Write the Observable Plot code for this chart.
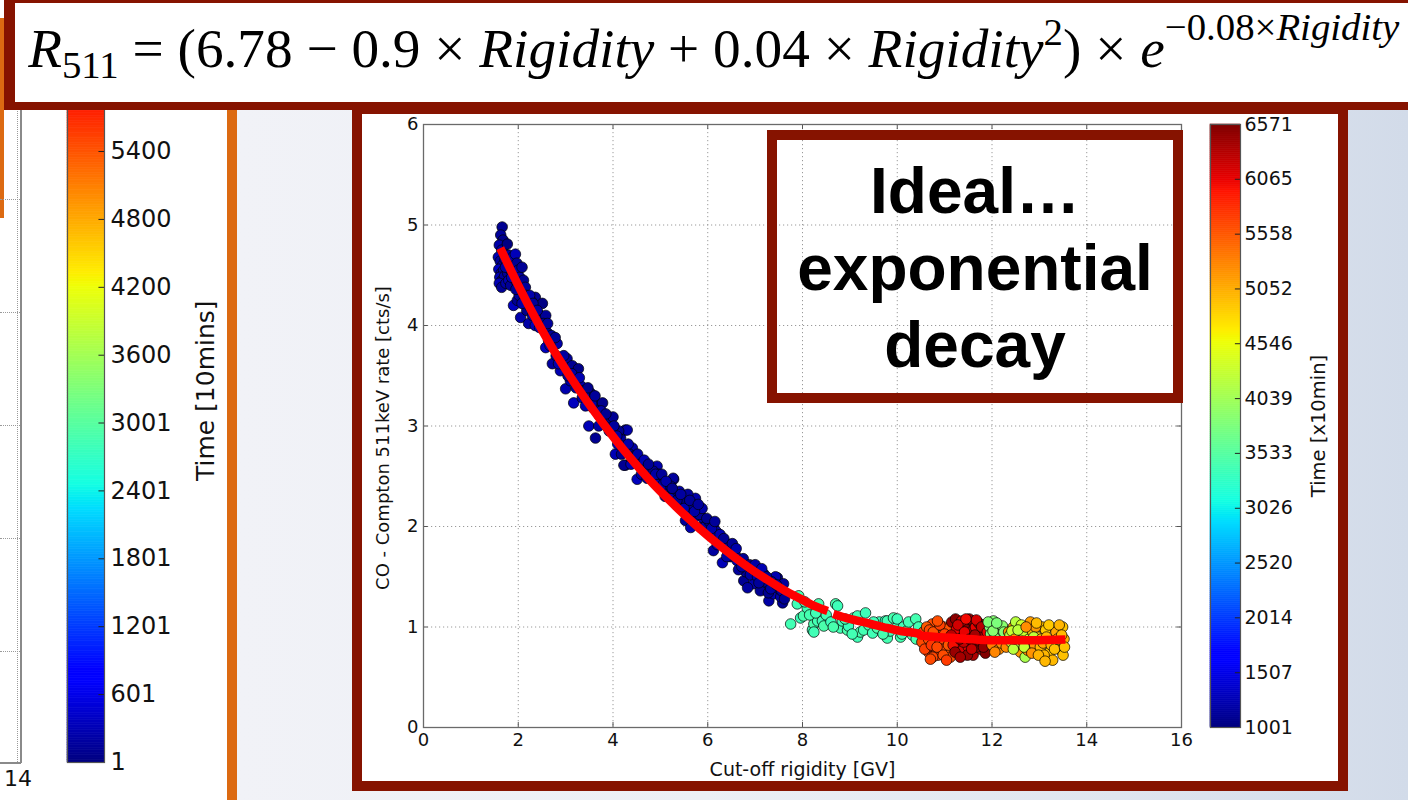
<!DOCTYPE html>
<html>
<head>
<meta charset="utf-8">
<script src="https://cdn.jsdelivr.net/npm/d3@7"></script>
<script src="https://cdn.jsdelivr.net/npm/@observablehq/plot@0.6"></script>
<style>
  html, body { margin: 0; padding: 0; }
  body { width: 1408px; height: 800px; overflow: hidden; position: relative; background: #ffffff; font-family: "DejaVu Sans", sans-serif; }
  .abs { position: absolute; }
  #slidebg { left: 237px; top: 0; width: 1171px; height: 800px; background: linear-gradient(90deg, #f1f2f7 0%, #eceff5 40%, #dfe5ef 75%, #d2dbe9 100%); }
  #orangeLine { left: 227px; top: 0; width: 10px; height: 800px; background: #dc6a12; }
  #orangeEdge { left: 0; top: 18px; width: 4px; height: 200px; background: #dc6a12; }
  #leftDotV { left: 17px; top: 108px; width: 0; height: 654px; border-left: 1px dotted #9a9a9a; }
  #leftSpine { left: 20px; top: 108px; width: 1.5px; height: 655px; background: #8a8a8a; }
  #leftBottom { left: 0; top: 762px; width: 21px; height: 1.5px; background: #8a8a8a; }
  .leftGrid { left: 0; width: 20px; height: 0; border-top: 1px dotted #9a9a9a; }
  #left14 { left: 4px; top: 766px; font-size: 22px; color: #111; }
  #mainFrame { left: 352px; top: 104px; width: 996px; height: 687px; border: 10px solid #861300; box-sizing: border-box; background: #ffffff; }
  #annot { left: 767px; top: 130px; width: 416px; height: 273px; border: 10px solid #861300; box-sizing: border-box; }
  #formulaBox { left: 4px; top: -8px; width: 1420px; height: 118px; border: 11px solid #861300; border-bottom-width: 8px; box-sizing: border-box; background: #ffffff; z-index: 10; }
  #formulaSvg { left: 0; top: 0; z-index: 11; }
</style>
</head>
<body>
<div id="slidebg" class="abs"></div>
<div id="orangeLine" class="abs"></div>
<div id="orangeEdge" class="abs"></div>
<div id="leftDotV" class="abs"></div>
<div id="leftSpine" class="abs"></div>
<div id="leftBottom" class="abs"></div>
<div class="abs leftGrid" style="top:199px"></div>
<div class="abs leftGrid" style="top:312px"></div>
<div class="abs leftGrid" style="top:425px"></div>
<div class="abs leftGrid" style="top:538px"></div>
<div class="abs leftGrid" style="top:651px"></div>
<div id="left14" class="abs">14</div>
<div id="leftCb" class="abs" style="left:67px;top:0px"></div>
<div id="mainFrame" class="abs"></div>
<div id="mainPlot" class="abs" style="left:362px;top:114px"></div>
<div id="colorbar" class="abs" style="left:1205px;top:114px"></div>
<div id="annot" class="abs">
  <svg width="396" height="253" style="position:absolute;left:0;top:0;overflow:visible">
    <g font-family="'Liberation Sans', Arial, sans-serif" font-weight="bold" font-size="64" text-anchor="middle" fill="#000">
      <text x="198" y="73">Ideal…</text>
      <text x="198" y="150">exponential</text>
      <text x="198" y="227">decay</text>
    </g>
  </svg>
</div>
<div id="formulaBox" class="abs"></div>
<svg id="formulaSvg" class="abs" width="1408" height="104">
  <g id="formulaG">
    <text id="formulaText" x="27" y="67" font-family="'Liberation Serif', 'DejaVu Serif', serif" font-size="47" fill="#000"><tspan font-style="italic">R</tspan><tspan font-size="33" dy="9">511</tspan><tspan dy="-9"> = (6.78 − 0.9 × </tspan><tspan font-style="italic">Rigidity</tspan><tspan> + 0.04 × </tspan><tspan font-style="italic">Rigidity</tspan><tspan font-size="33" dy="-19">2</tspan><tspan dy="19">) × </tspan><tspan font-style="italic">e</tspan><tspan font-size="33" dy="-23">−0.08×</tspan><tspan font-size="33" font-style="italic">Rigidity</tspan></text>
  </g>
</svg>

<script>
// ---------------- DATA ----------------
// Axis ticks
const xTicks = [0, 2, 4, 6, 8, 10, 12, 14, 16];
const yTicks = [0, 1, 2, 3, 4, 5, 6];
// Colour bar (Time [x10min]) range and ticks
const timeMin = 1001;
const timeMax = 6571;
const cbTicks = [1001, 1507, 2014, 2520, 3026, 3533, 4039, 4546, 5052, 5558, 6065, 6571];
// Partial colour bar of the previous chart (Time [10mins])
const leftCbMin = 1;
const leftCbMax = 6571;
const leftCbTicks = [1, 601, 1201, 1801, 2401, 3001, 3600, 4200, 4800, 5400];

// Scatter points: [cut-off rigidity (GV), rate (cts/s), time (x10 min)]
const blueBand = [
  [1.66,4.98,1090],[1.63,4.90,1130],[1.68,4.85,1060],[1.60,4.80,1210],[1.65,4.75,1150],[1.70,4.72,1080],[1.58,4.68,1240],[1.62,4.64,1120],[1.67,4.60,1190],[1.72,4.66,1070],
  [1.59,4.56,1300],[1.64,4.52,1110],[1.69,4.55,1170],[1.61,4.48,1230],[1.66,4.45,1050],[1.71,4.49,1140],[1.60,4.42,1260],[1.65,4.38,1100],[1.74,4.42,1180],[1.77,4.81,1020],
  [1.80,4.70,1160],[1.76,4.60,1090],[1.82,4.62,1220],[1.78,4.52,1130],[1.84,4.55,1070],[1.80,4.45,1250],[1.84,4.40,1110],[1.88,4.68,1190],[1.90,4.58,1040],[1.94,4.71,1280],
  [1.92,4.50,1150],[1.97,4.62,1100],[2.00,4.55,1210],[1.96,4.44,1060],[2.03,4.48,1170],[2.08,4.58,1120],[2.06,4.40,1240],[2.11,4.45,1080],[2.10,4.35,1190],[2.15,4.38,1140],
  [1.90,4.20,1310],[1.98,4.25,1090],[2.05,4.08,1200],[2.02,4.30,1130],[2.13,4.28,1260],
  [2.19,4.25,1110],[2.22,4.02,1180],[2.18,4.15,1050],[2.26,4.18,1230],[2.30,4.10,1140],[2.36,4.28,1090],[2.36,4.00,1270],[2.42,4.12,1160],[2.51,4.22,1020],[2.47,4.05,1200],
  [2.58,4.10,1120],[2.55,3.95,1250],[2.61,3.93,1080],[2.64,3.85,1170],[2.70,3.90,1130],[2.58,3.78,1290],[2.75,3.80,1060],[2.82,3.82,1210],[2.72,3.62,1150],[2.80,3.70,1100],
  [2.89,3.55,1240],[2.93,3.64,1070],[2.28,4.24,1150],[2.33,4.16,1200],[2.88,3.68,1110],[2.97,3.60,1180],
  [3.03,3.67,1130],[3.08,3.58,1260],[3.14,3.60,1090],[3.20,3.52,1170],[3.27,3.57,1040],[3.00,3.37,1220],[3.10,3.45,1150],[3.17,3.23,1300],[3.24,3.45,1110],[3.32,3.40,1190],
  [3.38,3.35,1070],[3.45,3.30,1230],[3.52,3.33,1140],[3.59,3.28,1100],[3.65,3.22,1250],[3.78,3.23,1060],[3.67,3.15,1180],[3.72,3.10,1120],[3.49,3.00,1270],[3.63,2.88,1090],
  [3.80,3.05,1210],[3.88,2.99,1150],[3.95,3.08,1080],[3.58,3.18,1190],[3.35,3.28,1130],[3.42,3.20,1240],[3.70,3.00,1170],
  [4.00,3.09,1100],[4.05,2.72,1260],[4.16,2.88,1140],[4.26,2.96,1080],[4.30,2.96,1200],[4.26,2.61,1130],[4.41,2.78,1180],[4.64,2.61,1060],[4.93,2.60,1220],[4.79,2.51,1110],
  [4.51,2.47,1290],[5.00,2.46,1150],[4.23,2.61,1090],[4.10,2.82,1230],[4.20,2.80,1170],[4.35,2.72,1040],[4.47,2.66,1210],[4.55,2.62,1120],[4.70,2.56,1190],[4.85,2.55,1080],
  [4.38,2.62,1250],[4.60,2.52,1140],[4.72,2.48,1100],[4.88,2.47,1200],[4.97,2.52,1160],[4.12,2.95,1070],[4.45,2.70,1240],
  [5.15,2.36,1130],[5.28,2.47,1190],[5.49,2.29,1060],[5.74,2.28,1210],[5.38,2.21,1150],[5.64,2.19,1100],[5.78,2.16,1270],[5.53,2.06,1120],[5.91,2.08,1180],[5.85,1.99,1090],
  [5.64,1.99,1230],[5.27,2.48,1140],[5.06,2.42,1200],[5.10,2.30,1080],[5.22,2.40,1160],[5.30,2.33,1110],[5.40,2.35,1250],[5.45,2.20,1170],[5.55,2.25,1050],[5.60,2.12,1190],
  [5.68,2.22,1130],[5.70,2.08,1220],[5.82,2.12,1100],[5.95,2.00,1160],[5.20,2.28,1240],[5.35,2.26,1070],[5.88,2.18,1200],[5.58,2.32,1140],
  [6.12,2.01,1110],[6.06,1.93,1190],[6.23,1.89,1060],[6.37,1.81,1230],[6.12,1.76,1150],[6.54,1.78,1100],[6.31,1.64,1270],[6.69,1.64,1130],[6.84,1.59,1180],[6.76,1.46,1090],
  [6.97,1.43,1210],[6.84,1.39,1150],[6.03,2.05,1070],[6.18,1.95,1240],[6.28,1.86,1120],[6.42,1.76,1190],[6.48,1.70,1040],[6.58,1.72,1160],[6.62,1.66,1220],[6.80,1.55,1110],
  [6.90,1.52,1170],[6.94,1.58,1080],[6.20,1.82,1250],[6.65,1.57,1130],[6.45,1.82,1200],[6.75,1.68,1090],
  [7.16,1.53,1140],[7.26,1.41,1210],[7.47,1.49,1060],[7.29,1.26,1180],[7.58,1.24,1120],[7.39,1.33,1250],[7.11,1.36,1100],[7.18,1.53,1170],[7.43,1.50,1230],[7.28,1.34,1080],
  [7.54,1.30,1190],[7.60,1.43,1140],[7.05,1.50,1200],[7.35,1.45,1110],[7.50,1.38,1160],[7.65,1.33,1220],[7.20,1.45,1070],[7.02,1.58,1150],
  [1.73,4.58,1160],[1.86,4.48,1230],[1.95,4.36,1100],[2.08,4.22,1180],[2.16,4.30,1060],[2.24,4.30,1210],[2.31,4.22,1130],[2.40,4.15,1170],[2.45,3.98,1250],[2.53,4.02,1090],
  [2.62,4.02,1140],[2.67,3.80,1200],[2.78,3.88,1110],[2.85,3.62,1230],[2.96,3.70,1150],[3.05,3.50,1080],[3.13,3.52,1190],[3.22,3.38,1120],[3.29,3.48,1240],[3.40,3.30,1170],
  [3.47,3.38,1060],[3.55,3.22,1200],[3.62,3.30,1130],[3.75,3.15,1180],[3.85,3.12,1090],[3.92,2.95,1220],[4.02,3.00,1140],[4.08,2.90,1190],[4.18,2.72,1070],[4.32,2.82,1210],
  [4.40,2.68,1120],[4.52,2.72,1170],[4.66,2.66,1240],[4.75,2.62,1100],[4.90,2.52,1180],[5.03,2.52,1130],[5.12,2.45,1210],[5.25,2.38,1090],[5.43,2.32,1160],[5.50,2.18,1230],
  [5.62,2.26,1110],[5.72,2.15,1190],[5.80,2.22,1140],[5.98,2.08,1070],[6.08,1.98,1200],[6.15,2.05,1130],[6.26,1.92,1250],[6.34,1.88,1090],[6.40,1.70,1170],[6.52,1.83,1120],
  [6.60,1.78,1210],[6.72,1.60,1150],[6.88,1.62,1080],[7.00,1.62,1190],[7.08,1.44,1130],[7.14,1.58,1240],[7.24,1.50,1100],[7.33,1.38,1170],[7.45,1.42,1210],[7.56,1.36,1140],
  [7.62,1.28,1090]
];
const cyanBand = [
  [7.75,1.03,3400],[7.89,1.23,3380],[7.92,1.31,3420],[7.96,1.09,3360],[8.02,1.11,3440],[8.10,1.19,3400],[8.21,0.97,3370],[8.24,1.03,3450],[8.24,0.95,3390],[8.32,1.06,3410],
  [8.34,1.23,3430],[8.42,1.06,3380],[8.45,1.01,3460],[8.05,1.25,3350],[8.15,1.12,3420],[8.50,1.12,3400],[8.70,1.23,3440],[8.74,1.21,3370],[8.80,0.99,3410],[8.84,1.06,3390],
  [8.95,0.97,3450],[8.97,1.01,3360],[9.08,1.09,3420],[9.16,1.11,3400],[9.16,0.90,3380],[9.22,0.95,3440],[9.29,0.97,3410],[9.33,1.14,3370],[9.40,1.02,3430],[9.48,0.94,3390],
  [9.58,0.99,3460],[9.62,1.05,3400],[9.75,1.06,3350],[9.79,0.89,3420],[9.79,1.06,3410],[9.85,0.96,3380],[9.92,1.09,3440],[10.00,1.00,3400],[10.00,1.08,3370],[10.07,0.90,3430],
  [10.13,1.00,3390],[10.20,0.96,3450],[10.24,1.05,3410],[10.32,0.92,3380],[10.39,1.08,3420],[10.45,1.00,3400],[10.40,0.88,3440],[8.60,1.05,3360],[8.90,1.08,3420],[9.05,0.93,3400],
  [9.50,1.05,3380],[9.70,0.93,3430],[10.10,0.93,3410],[8.28,1.14,3390],[8.65,1.00,3440]
];
const orangeCluster = [
  [10.55,0.95,5600],[10.60,0.83,5650],[10.66,0.75,5700],[10.70,0.90,5560],[10.74,1.03,5620],[10.78,0.80,5680],[10.82,0.95,5590],[10.86,0.72,5720],[10.91,0.92,5640],[10.95,0.84,5700],
  [10.98,1.00,5610],[11.02,0.88,5660],[11.06,0.75,5580],[11.10,0.95,5730],[10.62,1.00,5550],[10.88,0.85,5690],[11.12,0.70,5620],[10.57,0.88,5710],[10.68,0.97,5640],[10.80,0.88,5590],
  [10.93,0.78,5670],[11.05,0.98,5600],[10.64,0.80,5740],[10.75,0.70,5660],
  [10.52,0.85,5640],[10.58,0.78,5700],[10.66,0.88,5600],[10.72,0.82,5750],[10.76,0.95,5580],[10.84,0.80,5650],[10.90,1.02,5700],[10.97,0.72,5620],[11.00,0.93,5680],[11.08,0.82,5570],
  [10.70,0.68,5640],[10.85,1.06,5610],[11.04,0.67,5720]
];
const redCluster = [
  [11.15,1.05,6450],[11.20,0.90,6100],[11.23,1.08,6520],[11.27,0.87,6400],[11.30,0.78,6050],[11.34,0.97,6480],[11.38,0.77,6150],[11.44,1.03,6550],[11.46,0.90,6380],[11.50,0.80,6120],
  [11.55,0.95,6460],[11.58,1.06,6530],[11.62,0.84,6420],[11.65,1.00,6080],[11.70,0.90,6500],[11.75,0.78,6200],[11.80,0.92,6440],[11.84,1.02,6010],[11.86,0.74,6560],[11.88,0.85,6380],
  [11.40,0.85,6250],[11.60,0.72,6350],[11.25,0.98,6060],[11.18,0.82,6000],[11.52,1.08,6490],[11.72,1.04,6410],[11.36,1.06,6140],[11.68,0.80,6560],
  [11.14,0.92,6300],[11.22,0.75,6450],[11.28,1.02,6180],[11.32,0.88,6520],[11.42,0.95,6070],[11.48,0.72,6470],[11.53,0.88,6560],[11.57,0.78,6230],[11.64,0.92,6400],[11.67,1.07,6150],
  [11.74,0.86,6540],[11.78,1.00,6300],[11.82,0.80,6480],[11.90,0.95,6060],[11.45,1.08,6020],[11.33,0.70,6390]
];
const greenCluster = [
  [11.95,1.00,3800],[11.97,0.93,3750],[12.03,1.06,3850],[12.08,0.97,3900],[12.12,0.84,3780],[12.18,0.92,3820],[12.22,1.01,3880],[12.28,0.88,3760],[12.00,0.82,5300],[12.15,0.78,5250],
  [12.05,0.90,3830],[11.92,1.05,3820],[12.02,0.96,3870],[12.10,1.04,3790],[12.25,0.95,3850],[12.06,0.75,5280],[12.20,0.84,5200],[12.30,0.80,5260]
];
const yellowCluster = [
  [12.35,0.95,5200],[12.40,0.85,4250],[12.45,1.00,5150],[12.50,1.05,4200],[12.52,0.90,5250],[12.56,0.83,4150],[12.60,0.75,5180],[12.66,0.95,4300],[12.70,0.70,4100],[12.75,0.77,5220],
  [12.78,0.88,4250],[12.81,1.05,5150],[12.86,0.95,4950],[12.90,0.82,5200],[12.96,0.90,4900],[13.02,0.80,5000],[13.06,1.00,4950],[13.13,0.97,4880],[13.18,0.85,5050],[13.22,0.75,4920],
  [13.28,0.67,4980],[13.30,0.87,4900],[13.35,0.95,5100],[13.40,0.80,4940],[13.45,0.77,4960],[13.49,1.00,4900],[13.52,0.88,5000],[13.50,0.72,4930],[12.45,0.78,4200],[12.62,1.02,4350],
  [12.38,0.92,4180],[13.10,0.72,4990],[12.92,1.00,5180],
  [12.42,0.96,4300],[12.48,0.88,5220],[12.55,0.97,4220],[12.64,0.86,5180],[12.68,0.80,4280],[12.72,1.00,5240],[12.84,0.74,5200],[12.88,0.90,4250],[12.94,1.04,4960],[12.98,0.72,5010],
  [13.04,0.88,4930],[13.08,0.84,5120],[13.15,0.90,4970],[13.20,1.02,4890],[13.25,0.82,5010],[13.32,0.78,4950],[13.38,0.88,4920],[13.42,1.02,5000],[13.47,0.92,4970],[13.53,0.80,4940],
  [13.12,0.66,4990]
];

// Fitted curve (null = gap in the drawn line)
const fitRigidity = [1.62, 2.00, 2.40, 2.74, 3.10, 3.46, 3.80, 4.16, 4.50, 4.80, 5.15, 5.50, 5.85, 6.20, 6.55, 6.90, 7.26, 7.60, 7.96, 8.25, 8.53, 8.59, 8.65, 9.00, 9.36, 9.70, 10.07, 10.45, 10.49, 11.20, 11.97, 12.80, 13.55];
const fitRate     = [4.77, 4.40, 4.04, 3.76, 3.49, 3.24, 3.02, 2.80, 2.61, 2.45, 2.28, 2.12, 1.97, 1.83, 1.70, 1.58, 1.47, 1.37, 1.28, 1.21, 1.16, null, 1.13, 1.08, 1.04, 1.00, 0.96, 0.935, 0.915, 0.89, 0.868, 0.868, 0.875];

// Text
const xLabel = "Cut-off rigidity [GV]";
const yLabel = "CO - Compton 511keV rate [cts/s]";
const cbLabel = "Time [x10min]";
const leftCbLabel = "Time [10mins]";

// ---------------- STYLE (jet colormap) ----------------
const jetR = [[0,0],[0.35,0],[0.66,1],[0.89,1],[1,0.5]];
const jetG = [[0,0],[0.125,0],[0.375,1],[0.64,1],[0.91,0],[1,0]];
const jetB = [[0,0.5],[0.11,1],[0.34,1],[0.65,0],[1,0]];
function piece(pts, t) {
  for (let i = 1; i < pts.length; i++) {
    if (t <= pts[i][0]) {
      const [t0, v0] = pts[i - 1], [t1, v1] = pts[i];
      return v0 + (v1 - v0) * (t - t0) / (t1 - t0);
    }
  }
  return pts[pts.length - 1][1];
}
function jet(t) {
  t = Math.max(0, Math.min(1, t));
  return d3.rgb(255 * piece(jetR, t), 255 * piece(jetG, t), 255 * piece(jetB, t)).formatHex();
}

// ---------------- BUILD ----------------
const toObj = ([rigidity, rate, time]) => ({rigidity, rate, time});
const points = [...blueBand, ...cyanBand, ...orangeCluster, ...redCluster, ...greenCluster, ...yellowCluster].map(toObj);
const fit = fitRigidity.map((r, i) => ({rigidity: r, rate: fitRate[i]}));

const font = "'DejaVu Sans', sans-serif";

const mainPlot = Plot.plot({
  width: 976, height: 666,
  marginLeft: 61, marginRight: 157, marginTop: 10, marginBottom: 53,
  style: {fontFamily: font, fontSize: "18px", color: "#111", background: "transparent", overflow: "visible"},
  x: {domain: [0, 16], ticks: xTicks, tickSize: 0, tickPadding: 6, label: null, tickFormat: d => String(d)},
  y: {domain: [0, 6], ticks: yTicks, tickSize: 0, tickPadding: 5, label: null, tickFormat: d => String(d)},
  color: {type: "linear", domain: [timeMin, timeMax], interpolate: jet},
  marks: [
    Plot.ruleX(xTicks.slice(1, -1), {stroke: "#9a9a9a", strokeWidth: 1, strokeDasharray: "1.2,2.8"}),
    Plot.ruleY(yTicks.slice(1, -1), {stroke: "#9a9a9a", strokeWidth: 1, strokeDasharray: "1.2,2.8"}),
    Plot.ruleX(xTicks, {y1: 0, y2: 0.05, stroke: "#555"}),
    Plot.ruleX(xTicks, {y1: 5.95, y2: 6, stroke: "#555"}),
    Plot.ruleY(yTicks, {x1: 0, x2: 0.1, stroke: "#555"}),
    Plot.ruleY(yTicks, {x1: 15.9, x2: 16, stroke: "#555"}),
    Plot.frame({stroke: "#6a6a6a", strokeWidth: 1.3}),
    Plot.dot(points, {x: "rigidity", y: "rate", fill: "time", stroke: "#000", strokeWidth: 0.7, r: 5.3}),
    Plot.line(fit, {x: "rigidity", y: "rate", stroke: "#ff0000", strokeWidth: 8.5, strokeLinecap: "butt", curve: "monotone-x"}),
    Plot.text([xLabel], {text: d => d, frameAnchor: "bottom", dy: 48, lineAnchor: "bottom", fontSize: 19, fill: "#111"}),
    Plot.text([yLabel], {text: d => d, frameAnchor: "left", textAnchor: "middle", dx: -40, dy: 12, rotate: -90, fontSize: 18, fill: "#111"})
  ]
});
document.getElementById("mainPlot").appendChild(mainPlot);

function bandsFor(lo, hi, n) {
  return d3.range(n).map(i => {
    const a = lo + (hi - lo) * i / n, b = lo + (hi - lo) * (i + 1) / n;
    return {lo: a, hi: b, mid: (a + b) / 2};
  });
}

const colorbar = Plot.plot({
  width: 133, height: 666,
  marginLeft: 5, marginRight: 98, marginTop: 10, marginBottom: 53,
  style: {fontFamily: font, fontSize: "19px", color: "#111", background: "transparent", overflow: "visible"},
  x: {domain: [0, 1], axis: null},
  y: {domain: [timeMin, timeMax], ticks: cbTicks, axis: "right", tickSize: 0, tickPadding: 4, label: null, tickFormat: d => String(d)},
  color: {type: "linear", domain: [timeMin, timeMax], interpolate: jet},
  marks: [
    Plot.rect(bandsFor(timeMin, timeMax, 300), {x1: 0, x2: 1, y1: "lo", y2: "hi", fill: "mid", stroke: "mid", strokeWidth: 0.6}),
    Plot.ruleY(cbTicks, {x1: 0.83, x2: 1, stroke: "#222"}),
    Plot.frame({stroke: "#555", strokeWidth: 1.2}),
    Plot.text([cbLabel], {text: d => d, frameAnchor: "right", textAnchor: "middle", dx: 78, rotate: -90, fontSize: 19.5, fill: "#111"})
  ]
});
document.getElementById("colorbar").appendChild(colorbar);

const leftCb = Plot.plot({
  width: 170, height: 800,
  marginLeft: 0, marginRight: 133, marginTop: 18.5, marginBottom: 38,
  style: {fontFamily: font, fontSize: "24px", color: "#111", background: "transparent", overflow: "visible"},
  x: {domain: [0, 1], axis: null},
  y: {domain: [leftCbMin, leftCbMax], ticks: leftCbTicks, axis: "right", tickSize: 0, tickPadding: 6, label: null, tickFormat: d => String(d)},
  color: {type: "linear", domain: [leftCbMin, leftCbMax], interpolate: jet},
  marks: [
    Plot.rect(bandsFor(leftCbMin, leftCbMax, 300), {x1: 0, x2: 1, y1: "lo", y2: "hi", fill: "mid", stroke: "mid", strokeWidth: 0.6}),
    Plot.ruleY(leftCbTicks, {x1: 0.85, x2: 1, stroke: "#222"}),
    Plot.frame({stroke: "#555", strokeWidth: 1.2}),
    Plot.text([leftCbLabel], {text: d => d, frameAnchor: "right", textAnchor: "middle", dx: 101, rotate: -90, fontSize: 25, fill: "#111"})
  ]
});
document.getElementById("leftCb").appendChild(leftCb);

// Fit the formula to its measured span (x 27 → 1400)
(function fitFormula() {
  const t = document.getElementById("formulaText");
  const g = document.getElementById("formulaG");
  const bb = t.getBBox();
  const k = 1373 / bb.width;
  g.setAttribute("transform", `translate(27,67) scale(${k}) translate(${-bb.x},-67)`);
})();
</script>
</body>
</html>
